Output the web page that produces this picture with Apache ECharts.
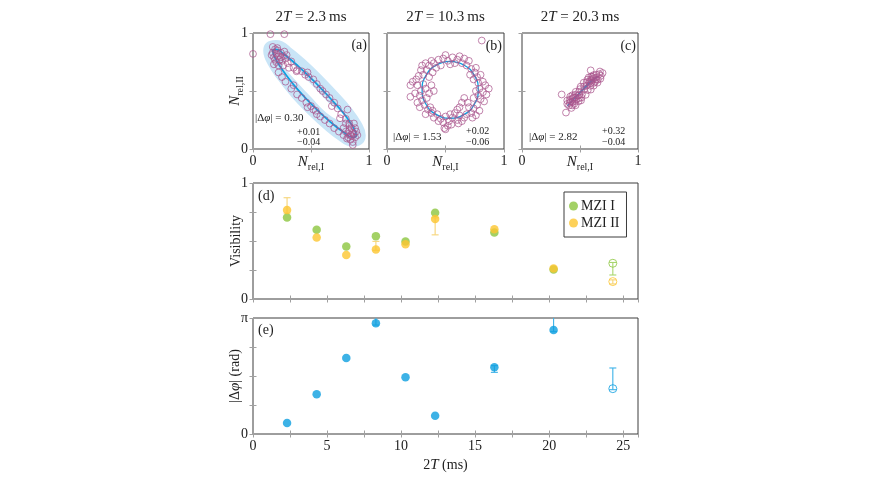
<!DOCTYPE html>
<html><head><meta charset="utf-8">
<script src="https://cdn.jsdelivr.net/npm/echarts/dist/echarts.min.js"></script>
<style>html,body{margin:0;padding:0;background:#fff}#c{width:870px;height:489px}</style>
</head><body><div id="c"></div><script>
// ---------- data ----------
const titleTimes = ['2.3', '10.3', '20.3'];
const phaseNotes = [['0.30', '+0.01', '\u22120.04'], ['1.53', '+0.02', '\u22120.06'], ['2.82', '+0.32', '\u22120.04']];

const scatterA = [
  [0.00,0.82],[0.15,0.99],[0.27,0.99],[0.86,0.035],
  [0.17,0.88],[0.19,0.86],[0.21,0.85],[0.17,0.83],[0.20,0.82],[0.22,0.80],[0.18,0.79],[0.24,0.83],
  [0.26,0.80],[0.23,0.77],[0.20,0.75],[0.25,0.76],[0.28,0.78],[0.22,0.72],[0.26,0.72],[0.30,0.74],
  [0.21,0.87],[0.16,0.81],[0.27,0.84],[0.31,0.70],[0.19,0.77],[0.24,0.79],[0.29,0.81],[0.18,0.73],
  [0.33,0.755],[0.375,0.67],
  [0.35,0.70],[0.38,0.68],[0.42,0.67],[0.45,0.64],[0.48,0.62],[0.47,0.66],[0.52,0.60],[0.55,0.56],
  [0.58,0.52],[0.60,0.50],[0.63,0.47],[0.66,0.44],[0.70,0.40],[0.73,0.35],[0.76,0.30],[0.80,0.26],
  [0.83,0.22],[0.815,0.34],[0.75,0.265],[0.68,0.37],
  [0.22,0.66],[0.25,0.62],[0.28,0.58],[0.33,0.52],[0.35,0.55],[0.38,0.47],[0.42,0.44],[0.46,0.40],
  [0.50,0.37],[0.52,0.34],[0.55,0.30],[0.58,0.28],[0.62,0.25],[0.66,0.22],[0.70,0.18],[0.74,0.15],
  [0.78,0.12],[0.47,0.36],[0.54,0.33],
  [0.80,0.15],[0.82,0.13],[0.84,0.12],[0.86,0.14],[0.88,0.10],[0.85,0.18],[0.83,0.20],[0.87,0.22],
  [0.81,0.09],[0.89,0.15],[0.84,0.08],[0.90,0.12],[0.86,0.06],[0.78,0.18],[0.80,0.22],[0.82,0.10],
  [0.88,0.18],[0.85,0.11],[0.87,0.13],[0.83,0.16]
];
const fitA = [
  [0.53,0.58],[0.392,0.712],[0.275,0.81],[0.197,0.858],[0.17,0.848],[0.197,0.772],[0.275,0.652],
  [0.392,0.505],[0.53,0.36],[0.668,0.232],[0.785,0.142],[0.863,0.101],[0.89,0.117],[0.863,0.188],
  [0.785,0.303],[0.668,0.435],[0.53,0.58]
];
// centre line of the unshaded gap inside the confidence band of (a)
const bandHoleA = [[0.295,0.73],[0.40,0.612],[0.53,0.472],[0.66,0.34],[0.755,0.28]];

const scatterB = [
  [0.81,0.935],[0.50,0.17],
  [0.40,0.74],[0.44,0.77],[0.48,0.78],[0.52,0.76],[0.56,0.79],[0.60,0.77],[0.64,0.74],[0.68,0.72],
  [0.46,0.72],[0.54,0.73],[0.62,0.80],[0.50,0.81],[0.42,0.70],[0.58,0.74],[0.70,0.76],[0.36,0.72],
  [0.66,0.78],[0.38,0.76],
  [0.72,0.69],[0.75,0.66],[0.77,0.62],[0.80,0.64],[0.74,0.60],[0.78,0.57],[0.82,0.58],[0.71,0.64],
  [0.76,0.70],[0.84,0.55],
  [0.79,0.52],[0.82,0.49],[0.78,0.46],[0.85,0.47],[0.80,0.43],[0.76,0.50],[0.83,0.41],[0.87,0.52],
  [0.74,0.44],
  [0.77,0.38],[0.74,0.35],[0.72,0.31],[0.79,0.33],[0.70,0.36],[0.76,0.29],[0.68,0.30],[0.66,0.27],
  [0.73,0.27],[0.69,0.40],
  [0.62,0.29],[0.60,0.25],[0.56,0.27],[0.53,0.24],[0.50,0.28],[0.46,0.26],[0.43,0.30],[0.40,0.27],
  [0.58,0.31],[0.48,0.23],[0.54,0.30],[0.44,0.24],[0.64,0.24],[0.38,0.31],[0.52,0.20],[0.49,0.18],
  [0.55,0.21],[0.61,0.22],
  [0.35,0.34],[0.32,0.38],[0.37,0.36],[0.30,0.42],[0.34,0.44],[0.28,0.36],[0.33,0.30],[0.39,0.33],
  [0.26,0.40],
  [0.29,0.50],[0.26,0.55],[0.31,0.56],[0.24,0.48],[0.28,0.46],[0.33,0.52],[0.22,0.58],[0.20,0.55],
  [0.20,0.45],[0.36,0.48],[0.40,0.50],[0.38,0.55],[0.25,0.60],
  [0.31,0.64],[0.34,0.68],[0.29,0.68],[0.36,0.62],[0.30,0.72],[0.27,0.63],[0.39,0.66],[0.33,0.74],
  [0.62,0.36],[0.64,0.40],[0.60,0.34],[0.66,0.44]
];
const fitB = [
  [0.54,0.755],[0.42,0.722],[0.332,0.633],[0.30,0.51],[0.332,0.388],[0.42,0.298],[0.54,0.265],
  [0.66,0.298],[0.748,0.388],[0.78,0.51],[0.748,0.633],[0.66,0.722],[0.54,0.755]
];

const scatterC = [
  [0.342,0.47],[0.379,0.314],[0.592,0.678],[0.695,0.655],
  [0.426,0.354],[0.390,0.389],[0.405,0.375],[0.390,0.418],[0.433,0.376],[0.412,0.397],
  [0.462,0.377],[0.412,0.426],[0.434,0.405],[0.416,0.452],[0.455,0.413],[0.434,0.434],
  [0.488,0.411],[0.455,0.442],[0.434,0.463],[0.491,0.436],[0.459,0.468],[0.509,0.419],
  [0.492,0.465],[0.463,0.493],[0.513,0.444],[0.492,0.494],[0.517,0.470],[0.549,0.467],
  [0.499,0.516],[0.535,0.51],[0.506,0.538],[0.567,0.508],[0.535,0.539],[0.557,0.547],
  [0.593,0.512],[0.532,0.572],[0.589,0.545],[0.557,0.576],[0.593,0.57],[0.618,0.546],
  [0.564,0.598],[0.593,0.599],[0.622,0.571],[0.575,0.617],[0.651,0.572],[0.615,0.607],
  [0.597,0.625],[0.637,0.615],[0.654,0.598],[0.615,0.636],[0.640,0.641],[0.676,0.606],
  [0.666,0.645],[0.680,0.631],[0.672,0.668],
  [0.445,0.445],[0.47,0.43],[0.42,0.41],[0.48,0.46],[0.45,0.39],[0.60,0.59],[0.63,0.58],
  [0.61,0.62],[0.64,0.60],[0.58,0.58]
];
const fitC = [
  [0.53,0.522],[0.60,0.592],[0.652,0.625],[0.59,0.572],[0.52,0.503],[0.45,0.432],[0.394,0.375],
  [0.46,0.447],[0.53,0.522]
];

const times = [2.3, 4.3, 6.3, 8.3, 10.3, 12.3, 16.3, 20.3, 24.3];
const openMarker = [false, false, false, false, false, false, false, false, true];
const visMZI1 = [0.703, 0.597, 0.452, 0.542, 0.496, 0.744, 0.573, 0.254, 0.308];
const visMZI2 = [0.767, 0.530, 0.380, 0.427, 0.473, 0.689, 0.602, 0.262, 0.150];
const phaseDiff = [0.298, 1.074, 2.058, 2.997, 1.535, 0.497, 1.806, 2.817, 1.228];
// error bars: [2T, low, high]
const errMZI1 = [[24.3, 0.207, 0.315]];
const errMZI2 = [[2.3, 0.74, 0.873], [8.3, 0.42, 0.497], [12.3, 0.553, 0.70], [24.3, 0.13, 0.165]];
const errPhase = [[8.3, 2.95, 3.40], [16.3, 1.67, 1.85], [20.3, 2.77, 3.40], [24.3, 1.20, 1.788]];

// ---------- styling ----------
const SERIF = "'Liberation Serif','DejaVu Serif',serif";
const TXT = '#222';
const PURPLE = '#a9548c';
const BLUE = '#0d9fe0';
const GREEN = '#8cc63f';
const YELLOW = '#fdc62f';
const BAND = '#c9e5f7';

const grids = [
  {left: 253, top: 33, width: 116, height: 116},
  {left: 387, top: 33, width: 117, height: 116},
  {left: 522, top: 33, width: 116, height: 116},
  {left: 253, top: 183, width: 385, height: 116},
  {left: 253, top: 318, width: 385, height: 116}
].map(g => Object.assign({show: true, borderColor: '#3c3c3c', borderWidth: 1, backgroundColor: 'transparent'}, g));

function axis(gi, pos, min, max, interval, labelFmt, extra) {
  const a = {
    type: 'value', gridIndex: gi, position: pos, min: min, max: max, interval: interval,
    axisLine: {show: false},
    axisTick: {show: true, inside: true, length: 3.5, lineStyle: {color: '#a0a0a0', width: 1}},
    splitLine: {show: false},
    nameMoveOverlap: false,
    axisLabel: labelFmt ? {formatter: labelFmt, margin: 5, showMinLabel: true, showMaxLabel: true,
      color: TXT, fontFamily: SERIF, fontSize: 14} : {show: false}
  };
  return Object.assign(a, extra || {});
}
const fmt01 = v => (v === 0 || v === 1) ? String(v) : '';
const fmtT = v => (Math.abs(v % 5) < 1e-9 && v <= 25) ? String(v) : '';
const fmtPi = v => v === 0 ? '0' : (Math.abs(v - Math.PI) < 1e-6 ? '\u03c0' : '');

function nameRich() {
  return {
    i: {fontFamily: SERIF, fontSize: 15, fontStyle: 'italic', color: TXT},
    s: {fontFamily: SERIF, fontSize: 10, color: TXT, padding: [9, 0, 0, 0]},
    n: {fontFamily: SERIF, fontSize: 14, color: TXT}
  };
}
const nIName = '{i|N}{s|rel,I}';
const nIIName = '{i|N}{s|rel,II}';

const xAxes = [
  axis(0, 'bottom', 0, 1, 0.5, fmt01, {name: nIName, nameLocation: 'middle', nameGap: 4, nameTextStyle: {rich: nameRich()}}),
  axis(1, 'bottom', 0, 1, 0.5, fmt01, {name: nIName, nameLocation: 'middle', nameGap: 4, nameTextStyle: {rich: nameRich()}}),
  axis(2, 'bottom', 0, 1, 0.5, fmt01, {name: nIName, nameLocation: 'middle', nameGap: 4, nameTextStyle: {rich: nameRich()}}),
  axis(3, 'bottom', 0, 26, 2.5, null),
  axis(4, 'bottom', 0, 26, 2.5, fmtT, {name: '{n|2}{i|T}{n| (ms)}', nameLocation: 'middle', nameGap: 24, nameTextStyle: {rich: nameRich()}}),
  axis(0, 'top', 0, 1, 0.5, null),
  axis(1, 'top', 0, 1, 0.5, null),
  axis(2, 'top', 0, 1, 0.5, null),
  axis(3, 'top', 0, 26, 2.5, null),
  axis(4, 'top', 0, 26, 2.5, null)
];
const yAxes = [
  axis(0, 'left', 0, 1, 0.5, fmt01, {name: nIIName, nameLocation: 'middle', nameGap: 8, nameRotate: 90, nameTextStyle: {rich: nameRich()}}),
  axis(1, 'left', 0, 1, 0.5, null),
  axis(2, 'left', 0, 1, 0.5, null),
  axis(3, 'left', 0, 1, 0.25, fmt01, {name: 'Visibility', nameLocation: 'middle', nameGap: 10, nameRotate: 90, nameTextStyle: {fontFamily: SERIF, fontSize: 14, color: TXT}}),
  axis(4, 'left', 0, Math.PI, Math.PI / 4, fmtPi, {name: '{n||\u0394}{i|\u03c6}{n|| (rad)}', nameLocation: 'middle', nameGap: 10, nameRotate: 90, nameTextStyle: {rich: nameRich()}}),
  axis(0, 'right', 0, 1, 0.5, null),
  axis(1, 'right', 0, 1, 0.5, null),
  axis(2, 'right', 0, 1, 0.5, null),
  axis(3, 'right', 0, 1, 0.25, null),
  axis(4, 'right', 0, Math.PI, Math.PI / 4, null)
];

// ---------- series ----------
function ring(gi, data) {
  return {type: 'scatter', xAxisIndex: gi, yAxisIndex: gi, data: data, symbol: 'circle', symbolSize: 6.8, clip: false, z: 4,
    itemStyle: {color: 'rgba(255,255,255,0)', borderColor: PURPLE, borderWidth: 0.9}, silent: true};
}
function fitLine(gi, data, width, color, z) {
  return {type: 'line', xAxisIndex: gi, yAxisIndex: gi, data: data, smooth: 0.5, symbol: 'none', clip: false, z: z,
    lineStyle: {color: color, width: width, cap: 'round', join: 'round'}, silent: true};
}
function errSeries(gi, data, color) {
  return {
    type: 'custom', xAxisIndex: gi, yAxisIndex: gi, data: data, z: 2, silent: true,
    renderItem: function (params, api) {
      const x = api.value(0), lo = api.value(1), hi = api.value(2);
      const cs = params.coordSys;
      const top = cs.y, bottom = cs.y + cs.height;
      const pLo = api.coord([x, lo]), pHi = api.coord([x, hi]);
      const hw = 3.5;
      const st = {stroke: color, lineWidth: 1.1};
      const capHi = pHi[1] >= top - 0.5, capLo = pLo[1] <= bottom + 0.5;
      const yHi = Math.max(pHi[1], top), yLo = Math.min(pLo[1], bottom);
      const ch = [{type: 'line', shape: {x1: pLo[0], y1: yLo, x2: pLo[0], y2: yHi}, style: st}];
      if (capHi) ch.push({type: 'line', shape: {x1: pHi[0] - hw, y1: yHi, x2: pHi[0] + hw, y2: yHi}, style: st});
      if (capLo) ch.push({type: 'line', shape: {x1: pLo[0] - hw, y1: yLo, x2: pLo[0] + hw, y2: yLo}, style: st});
      return {type: 'group', children: ch};
    }
  };
}
function pointSeries(gi, name, values, color, open) {
  const data = [];
  times.forEach((t, i) => { if (openMarker[i] === open) data.push([t, values[i]]); });
  return {
    type: 'scatter', name: open ? undefined : name, xAxisIndex: gi, yAxisIndex: gi, data: data, symbol: 'circle',
    symbolSize: open ? 8 : 8.5, z: 3, clip: false, silent: true,
    itemStyle: open ? {color: 'rgba(255,255,255,0)', borderColor: color, borderWidth: 1} : {color: color}
  };
}

const series = [
  fitLine(0, fitA, 19, BAND, 1),
  fitLine(0, bandHoleA, 9, '#ffffff', 2),
  fitLine(0, fitA, 1.7, BLUE, 3),
  ring(0, scatterA),
  fitLine(1, fitB, 1.3, BLUE, 3),
  ring(1, scatterB),
  fitLine(2, fitC, 1.3, BLUE, 3),
  ring(2, scatterC),
  errSeries(3, errMZI1, '#a8d66e'),
  errSeries(3, errMZI2, '#f6d477'),
  pointSeries(3, 'MZI I', visMZI1, GREEN, false),
  pointSeries(3, 'MZI II', visMZI2, YELLOW, false),
  pointSeries(3, 'MZI I', visMZI1, GREEN, true),
  pointSeries(3, 'MZI II', visMZI2, YELLOW, true),
  errSeries(4, errPhase, '#3cb2e8'),
  pointSeries(4, 'phase', phaseDiff, BLUE, false),
  pointSeries(4, 'phase', phaseDiff, BLUE, true)
];

// ---------- text ----------
const tRich = {
  n: {fontFamily: SERIF, fontSize: 15, fill: TXT},
  i: {fontFamily: SERIF, fontSize: 15, fontStyle: 'italic', fill: TXT}
};
const aRich = {
  n: {fontFamily: SERIF, fontSize: 11, fill: TXT},
  i: {fontFamily: SERIF, fontSize: 11, fontStyle: 'italic', fill: TXT}
};
const graphics = [];
const titleX = [311, 445.5, 580];
titleTimes.forEach((t, k) => {
  graphics.push({type: 'text', x: titleX[k], y: 17, silent: true,
    style: {text: '{n|2}{i|T}{n| = ' + t + '\u2009ms}', rich: tRich, align: 'center', verticalAlign: 'middle'}});
});
const noteMain = [[255, 118], [393, 137], [529, 137]];
const noteSup = [[297, 132], [466, 131], [602, 131]];
const noteSub = [[297, 142.5], [466, 142], [602, 142]];
phaseNotes.forEach((p, k) => {
  graphics.push({type: 'text', x: noteMain[k][0], y: noteMain[k][1], silent: true, z: 10,
    style: {text: '{n||\u0394}{i|\u03c6}{n|| = ' + p[0] + '}', rich: aRich, align: 'left', verticalAlign: 'middle'}});
  graphics.push({type: 'text', x: noteSup[k][0], y: noteSup[k][1], silent: true, z: 10,
    style: {text: p[1], font: '10px ' + SERIF, fill: TXT, align: 'left', verticalAlign: 'middle'}});
  graphics.push({type: 'text', x: noteSub[k][0], y: noteSub[k][1], silent: true, z: 10,
    style: {text: p[2], font: '10px ' + SERIF, fill: TXT, align: 'left', verticalAlign: 'middle'}});
});
const panelLabels = [['(a)', 367, 45, 'right'], ['(b)', 502, 46, 'right'], ['(c)', 636, 46, 'right'], ['(d)', 258, 196, 'left'], ['(e)', 258, 330, 'left']];
panelLabels.forEach(p => {
  graphics.push({type: 'text', x: p[1], y: p[2], silent: true, z: 10,
    style: {text: p[0], font: '14px ' + SERIF, fill: TXT, align: p[3], verticalAlign: 'middle'}});
});

const chart = echarts.init(document.getElementById('c'), null, {renderer: 'canvas'});
chart.setOption({
  animation: false,
  backgroundColor: '#fff',
  grid: grids,
  xAxis: xAxes,
  yAxis: yAxes,
  legend: {
    data: [{name: 'MZI I', icon: 'circle'}, {name: 'MZI II', icon: 'circle'}],
    orient: 'vertical', left: 564, top: 192, itemWidth: 9, itemHeight: 9, itemGap: 3,
    padding: [7, 7, 7, 5], borderColor: '#3c3c3c', borderWidth: 1, borderRadius: 0, backgroundColor: '#fff',
    textStyle: {fontFamily: SERIF, fontSize: 14, color: TXT, lineHeight: 14, padding: [0, 0, 0, -2]},
    selectedMode: false
  },
  series: series,
  graphic: graphics
});
</script></body></html>
